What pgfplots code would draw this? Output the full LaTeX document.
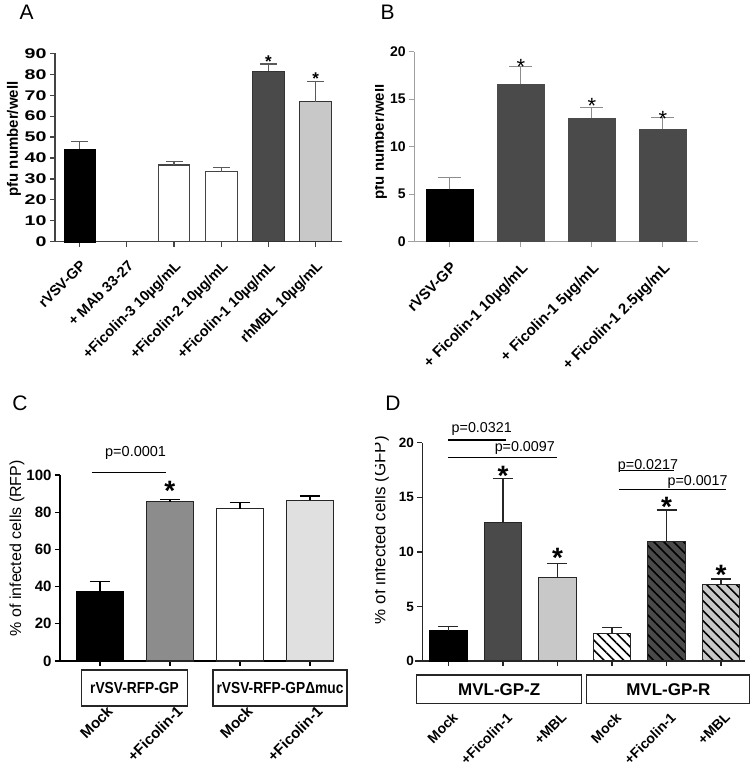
\documentclass[border=0pt]{standalone}
\usepackage{fontspec}
\setmainfont{Liberation Sans}
\setsansfont{Liberation Sans}
\usepackage{graphicx}
\usepackage{pgfplots}
\pgfplotsset{compat=1.18}
\usetikzlibrary{patterns.meta}

\definecolor{dkbar}{HTML}{4A4A4A}
\definecolor{ltbar}{HTML}{C8C8C8}
\definecolor{mdbar}{HTML}{8C8C8C}
\definecolor{plbar}{HTML}{E0E0E0}
\definecolor{axA}{HTML}{444444}
\definecolor{axB}{HTML}{A0A0A0}
\definecolor{errA}{HTML}{5A5A5A}
\definecolor{errB}{HTML}{8C8C8C}

\newcommand{\fs}[1]{\fontsize{#1}{#1}\selectfont}

\pgfplotsset{
  panel/.style={
    scale only axis, anchor=south west, clip=false,
    ybar, bar shift=0pt, ymin=0,
    axis x line*=bottom, axis y line*=left, axis line style={-},
    tick align=outside, major tick length=5pt,
    /pgf/number format/assume math mode=true,
    error bars/y dir=plus, error bars/y explicit,
    ylabel style={anchor=center},
  },
  hatch/.style={postaction={pattern={Lines[angle=-45,distance=7pt,line width=1.6pt]}}},
}

\begin{document}
\begin{tikzpicture}
\useasboundingbox (0pt,0pt) rectangle (750pt,-769pt);

% ---------------- A ----------------
\node[font=\fs{21}] at (26.7pt,-12.5pt) {A};
\begin{axis}[panel,
  at={(55pt,-241.7pt)}, width=286.7pt, height=188.4pt,
  xmin=-0.52, xmax=5.55, ymax=90, ytick={0,10,...,90},
  xtick={0,...,5},
  xticklabels={rVSV-GP, + MAb 33-27, +Ficolin-3 10µg/mL, +Ficolin-2 10µg/mL, +Ficolin-1 10µg/mL, rhMBL 10µg/mL},
  xticklabel style={rotate=45, anchor=north east, font=\bfseries\fs{14.5}, inner sep=1pt},
  xticklabel shift=11pt,
  yticklabel style={font=\bfseries\fs{14}},
  yticklabel={\scalebox{1.4}[1]{\pgfmathprintnumber{\tick}}},
  ylabel={pfu number/well},
  ylabel style={at={(axis description cs:-0.143,0.545)}, font=\bfseries\fs{15}},
  bar width=31.7pt,
  axis line style={axA, line width=1.2pt},
  x axis line style={shorten <=-5pt},
  tick style={axA, line width=1.2pt},
  error bars/error bar style={errA, line width=1.2pt},
  error bars/error mark options={rotate=90, errA, line width=1.2pt, mark size=8.5pt},
]
\addplot[fill=black, draw=black] coordinates {(0,44.4) +- (0,3.5)};
\addplot[draw=none, fill=none, error bars/y dir=none] coordinates {(1,0)};
\addplot[fill=white, draw=axA, line width=1.2pt] coordinates {(2,36.6) +- (0,1.6)};
\addplot[fill=white, draw=axA, line width=1.2pt] coordinates {(3,33.4) +- (0,2.0)};
\addplot[fill=dkbar, draw=black!80, line width=1.2pt] coordinates {(4,81.4) +- (0,3.5)};
\addplot[fill=ltbar, draw=black!80, line width=1.2pt] coordinates {(5,66.9) +- (0,9.5)};
\node[font=\bfseries\fs{17}, anchor=base, yshift=-9.9pt] at (axis cs:4,87.9) {*};
\node[font=\bfseries\fs{17}, anchor=base, yshift=-9.9pt] at (axis cs:5,80.0) {*};
\end{axis}

% ---------------- B ----------------
\begin{scope}
\clip (375pt,0pt) rectangle (750pt,-385pt);
\node[font=\fs{21}] at (387.5pt,-12.5pt) {B};
\begin{axis}[panel,
  at={(414.3pt,-241.7pt)}, width=284pt, height=190pt,
  xmin=-0.5, xmax=3.5, ymax=20, ytick={0,5,...,20},
  xtick={0,...,3},
  xticklabels={rVSV-GP, + Ficolin-1 10µg/mL, + Ficolin-1 5µg/mL, + Ficolin-1 2.5µg/mL},
  xticklabel style={rotate=45, anchor=north east, font=\bfseries\fs{15}, inner sep=1pt},
  xticklabel shift=13pt,
  yticklabel style={font=\bfseries\fs{14}},
  ylabel={pfu number/well},
  ylabel style={at={(axis description cs:-0.121,0.525)}, font=\bfseries\fs{15}},
  bar width=47.7pt,
  axis line style={axB, line width=0.9pt},
  x axis line style={shorten <=-6pt},
  tick style={axB, line width=0.9pt},
  error bars/error bar style={errB, line width=1pt},
  error bars/error mark options={rotate=90, errB, line width=1pt, mark size=11.5pt},
]
\addplot[fill=black, draw=none] coordinates {(0,5.51) +- (0,1.30)};
\addplot[fill=dkbar, draw=none] coordinates {(1,16.56) +- (0,1.93)};
\addplot[fill=dkbar, draw=none] coordinates {(2,13.02) +- (0,1.12)};
\addplot[fill=dkbar, draw=none] coordinates {(3,11.82) +- (0,1.27)};
\node[font=\fs{22}, anchor=base, yshift=-12.8pt] at (axis cs:1,18.95) {*};
\node[font=\fs{22}, anchor=base, yshift=-12.8pt] at (axis cs:2,14.84) {*};
\node[font=\fs{22}, anchor=base, yshift=-12.8pt] at (axis cs:3,13.52) {*};
\end{axis}
\end{scope}

% ---------------- C ----------------
\node[font=\fs{21}] at (20pt,-403.5pt) {C};
\begin{axis}[panel,
  at={(60pt,-661pt)}, width=273.7pt, height=186pt,
  xmin=-0.57, xmax=3.34, ymax=100, ytick={0,20,...,100},
  xtick={0,...,3},
  xticklabels={Mock, +Ficolin-1, Mock, +Ficolin-1},
  xticklabel style={xshift=6pt, rotate=45, anchor=north east, font=\bfseries\fs{15}, inner sep=1pt},
  xticklabel shift=37pt,
  yticklabel style={font=\bfseries\fs{15}},
  ylabel={\% of infected cells (RFP)},
  ylabel style={at={(axis description cs:-0.157,0.606)}, font=\fs{16}},
  bar width=46.7pt,
  axis line style={black, line width=1.3pt},
  tick style={black, line width=1.3pt},
  error bars/error bar style={black, line width=1.2pt},
  error bars/error mark options={rotate=90, black, line width=1.2pt, mark size=10pt},
]
\addplot[fill=black, draw=black, line width=1.2pt] coordinates {(0,37.3) +- (0,5.35)};
\addplot[fill=mdbar, draw=black!85, line width=1.2pt] coordinates {(1,85.7) +- (0,1.2)};
\addplot[fill=white, draw=black!85, line width=1.2pt] coordinates {(2,81.9) +- (0,3.4)};
\addplot[fill=plbar, draw=black!85, line width=1.2pt] coordinates {(3,86.4) +- (0,2.3)};
\node[font=\bfseries\fs{28}, anchor=base, yshift=-16.2pt] at (axis cs:1,95) {*};
\draw[line width=1.2pt] (axis cs:-0.12,101.5) -- (axis cs:0.94,101.5);
\node[font=\fs{14.5}, anchor=base] at (axis cs:0.51,109.8) {p=0.0001};
\end{axis}
\node[draw=black!85, line width=1.2pt, minimum width=105.6pt, minimum height=36pt, inner sep=1pt, font=\bfseries\fs{16}] at (134.5pt,-688pt) {\scalebox{0.86}[1]{rVSV-RFP-GP}};
\node[draw=black!85, line width=1.2pt, minimum width=134pt, minimum height=36pt, inner sep=1pt, font=\bfseries\fs{16}] at (280pt,-688pt) {\scalebox{0.86}[1]{rVSV-RFP-GPΔmuc}};

% ---------------- D ----------------
\begin{scope}
\clip (375pt,-385pt) rectangle (750pt,-769pt);
\node[font=\fs{21}] at (393pt,-403.5pt) {D};
\begin{axis}[panel,
  at={(422.3pt,-661pt)}, width=322.7pt, height=218.3pt,
  xmin=-0.48, xmax=5.44, ymax=20, ytick={0,5,...,20},
  xtick={0,...,5},
  xticklabels={Mock, +Ficolin-1, +MBL, Mock, +Ficolin-1, +MBL},
  xticklabel style={xshift=3pt, rotate=45, anchor=north east, font=\bfseries\fs{14}, inner sep=1pt},
  xticklabel shift=44pt,
  yticklabel style={font=\bfseries\fs{13.5}},
  ylabel={\% of infected cells (GFP)},
  ylabel style={at={(axis description cs:-0.128,0.60)}, font=\fs{17}},
  bar width=37.3pt,
  axis line style={black!85, line width=1.3pt},
  x axis line style={shorten <=-7pt},
  tick style={black!85, line width=1.3pt},
  error bars/error bar style={black!85, line width=1.2pt},
  error bars/error mark options={rotate=90, black!85, line width=1.2pt, mark size=10pt},
]
\addplot[fill=black, draw=black, line width=1.2pt] coordinates {(0,2.75) +- (0,0.40)};
\addplot[fill=dkbar, draw=black!85, line width=1.2pt] coordinates {(1,12.70) +- (0,4.00)};
\addplot[fill=ltbar, draw=black!85, line width=1.2pt] coordinates {(2,7.66) +- (0,1.29)};
\addplot[fill=white, draw=black!85, line width=1.2pt, hatch] coordinates {(3,2.53) +- (0,0.52)};
\addplot[fill=dkbar, draw=black!85, line width=1.2pt, hatch] coordinates {(4,10.93) +- (0,2.90)};
\addplot[fill=ltbar, draw=black!85, line width=1.2pt, hatch] coordinates {(5,6.99) +- (0,0.52)};
\node[font=\bfseries\fs{28}, anchor=base, yshift=-16.2pt] at (axis cs:1,17.56) {*};
\node[font=\bfseries\fs{28}, anchor=base, yshift=-16.2pt] at (axis cs:2,10.01) {*};
\node[font=\bfseries\fs{28}, anchor=base, yshift=-16.2pt] at (axis cs:4,14.69) {*};
\node[font=\bfseries\fs{28}, anchor=base, yshift=-16.2pt] at (axis cs:5,8.49) {*};
\draw[line width=1.2pt] (axis cs:0,20.25) -- (axis cs:1.05,20.25);
\draw[line width=1.2pt] (axis cs:0,18.66) -- (axis cs:2,18.66);
\draw[line width=1.2pt] (axis cs:3.14,17.43) -- (axis cs:4.13,17.43);
\draw[line width=1.2pt] (axis cs:3.13,15.73) -- (axis cs:5.1,15.73);
\node[font=\fs{14.3}, anchor=base] at (axis cs:0.61,20.95) {p=0.0321};
\node[font=\fs{14.3}, anchor=base] at (axis cs:1.40,19.18) {p=0.0097};
\node[font=\fs{14.3}, anchor=base] at (axis cs:3.66,17.59) {p=0.0217};
\node[font=\fs{14.3}, anchor=base] at (axis cs:4.57,16.12) {p=0.0017};
\end{axis}
\node[draw=black!85, line width=1.2pt, minimum width=165pt, minimum height=28.3pt, inner sep=1pt, font=\bfseries\fs{17}] at (499.2pt,-689.2pt) {MVL-GP-Z};
\node[draw=black!85, line width=1.2pt, minimum width=163.3pt, minimum height=28.3pt, inner sep=1pt, font=\bfseries\fs{17}] at (668.3pt,-689.2pt) {MVL-GP-R};
\end{scope}
\end{tikzpicture}
\end{document}
